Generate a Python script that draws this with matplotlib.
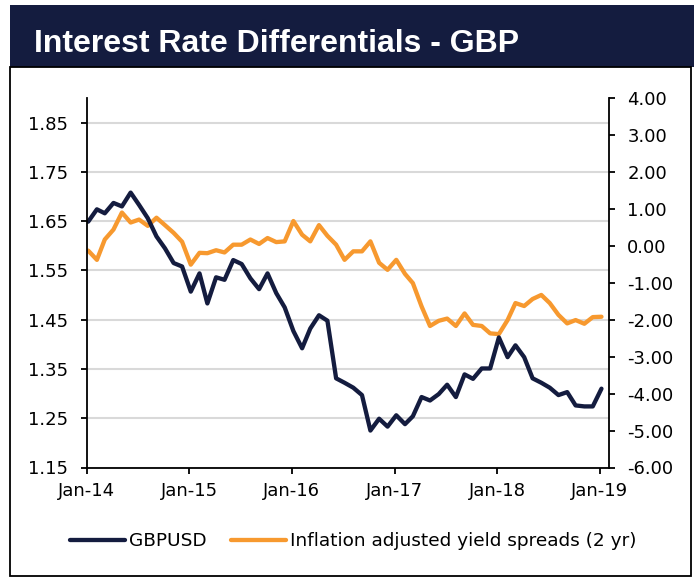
import matplotlib.pyplot as plt
import matplotlib.dates as mdates
import matplotlib.patches as patches
import matplotlib.ticker as mticker
import pandas as pd

plt.rcParams['font.family'] = ['DejaVu Sans']

# monthly points, Jan-14 .. Jan-19
dates = pd.date_range("2014-01-01", periods=61, freq="MS") + pd.Timedelta(days=6)

gbpusd = [1.649, 1.674, 1.666, 1.687, 1.680, 1.708, 1.683, 1.656, 1.619, 1.595,
          1.565, 1.558, 1.507, 1.544, 1.483, 1.536, 1.531, 1.571, 1.563, 1.534,
          1.512, 1.544, 1.504, 1.475, 1.427, 1.392, 1.432, 1.459, 1.448, 1.331,
          1.322, 1.312, 1.297, 1.225, 1.249, 1.233, 1.256, 1.238, 1.254, 1.293,
          1.286, 1.299, 1.318, 1.293, 1.339, 1.330, 1.351, 1.351, 1.414, 1.374,
          1.398, 1.374, 1.331, 1.322, 1.312, 1.297, 1.303, 1.276, 1.274, 1.274,
          1.310]

# inflation adjusted 2yr yield spread (right axis)
spread = [-0.13, -0.38, 0.17, 0.44, 0.90, 0.63, 0.71, 0.54, 0.76, 0.56,
          0.35, 0.11, -0.51, -0.19, -0.20, -0.12, -0.18, 0.03, 0.03, 0.17,
          0.05, 0.21, 0.10, 0.12, 0.67, 0.30, 0.12, 0.56, 0.27, 0.03,
          -0.38, -0.15, -0.15, 0.12, -0.46, -0.65, -0.38, -0.76, -1.01, -1.64,
          -2.17, -2.03, -1.97, -2.17, -1.83, -2.14, -2.17, -2.37, -2.39, -2.01,
          -1.55, -1.63, -1.44, -1.33, -1.55, -1.87, -2.10, -2.01, -2.11, -1.93,
          -1.92]

left_ticks = [1.15, 1.25, 1.35, 1.45, 1.55, 1.65, 1.75, 1.85]
right_ticks = [-6, -5, -4, -3, -2, -1, 0, 1, 2, 3, 4]
year_ticks = pd.date_range("2014-01-01", "2019-01-01", freq="YS")

navy = "#141c3f"
orange = "#f7992f"
W, H = 698, 579

fig = plt.figure(figsize=(W / 100, H / 100), dpi=100)

# header bar + frame
fig.patches.append(patches.Rectangle((10 / W, 1 - 67 / H), 684 / W, 62 / H,
                                     transform=fig.transFigure, facecolor=navy,
                                     edgecolor='none', zorder=0))
fig.patches.append(patches.Rectangle((10 / W, 1 - 576 / H), 681 / W, 509 / H,
                                     transform=fig.transFigure, fill=False,
                                     edgecolor='black', lw=1.3, zorder=0))
fig.text(34 / W, 1 - 52.5 / H, "Interest Rate Differentials - GBP", color='white',
         fontsize=23, fontweight='bold', family=['Liberation Sans', 'DejaVu Sans'],
         ha='left', va='baseline')

ax = fig.add_axes([86.5 / W, 1 - 467.5 / H, 522 / W, 369.5 / H])
ax2 = ax.twinx()
ax.set_zorder(2)
ax2.set_zorder(1)
ax.patch.set_visible(False)

# gridlines at left-axis ticks, kept under both lines
for g in left_ticks:
    ax2.plot([0, 1], [g, g], transform=ax.get_yaxis_transform(),
             color='#d9d9d9', lw=1.5, zorder=0)

l2, = ax2.plot(dates, spread, color=orange, lw=3.1, solid_joinstyle='round',
               solid_capstyle='round', label='Inflation adjusted yield spreads (2 yr)')
l1, = ax.plot(dates, gbpusd, color=navy, lw=3.1, solid_joinstyle='round',
              solid_capstyle='round', label='GBPUSD')

ax.set_xlim(pd.Timestamp("2014-01-01"), pd.Timestamp("2019-02-01"))
ax.set_ylim(1.15, 1.90)
ax2.set_ylim(-6, 4)
ax.set_yticks(left_ticks)
ax2.set_yticks(right_ticks)
ax.set_xticks(year_ticks)
ax.xaxis.set_major_formatter(mdates.DateFormatter('%b-%y'))
ax.yaxis.set_major_formatter(mticker.FormatStrFormatter('%.2f'))
ax2.yaxis.set_major_formatter(mticker.FormatStrFormatter('%.2f'))

for s in ['top', 'right']:
    ax.spines[s].set_visible(False)
for s in ['top', 'left', 'bottom']:
    ax2.spines[s].set_visible(False)
ax.spines['left'].set_linewidth(1.3)
ax.spines['bottom'].set_linewidth(1.3)
ax2.spines['right'].set_linewidth(1.3)

ax.tick_params(axis='y', direction='out', length=4.5, width=1.3, labelsize=13, pad=8.5)
ax.tick_params(axis='x', direction='out', length=4.5, width=1.3, labelsize=13, pad=6)
ax2.tick_params(axis='y', direction='out', length=4.5, width=1.3, labelsize=13, pad=9)

fig.legend([l1, l2], [l1.get_label(), l2.get_label()], loc='center',
           bbox_to_anchor=(0.506, 1 - 541 / H), ncol=2, frameon=False,
           handlelength=3.0, handletextpad=0.2, columnspacing=1.3, fontsize=13.3)

fig.savefig('out.png', dpi=100)
